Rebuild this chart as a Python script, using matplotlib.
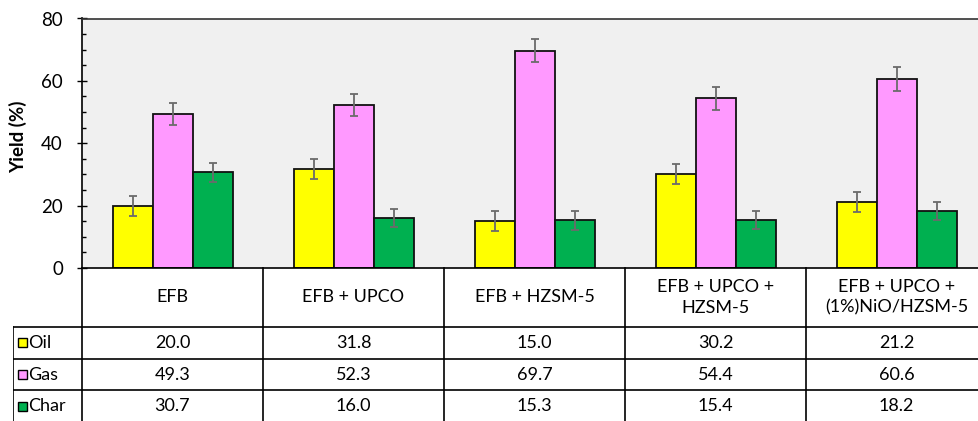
import numpy as np
import matplotlib
matplotlib.use('Agg')
import matplotlib.pyplot as plt
from matplotlib.patches import Rectangle
from matplotlib.ticker import MultipleLocator

plt.rcParams['font.family'] = ['Lato', 'DejaVu Sans']

# 数据
categories = ['EFB', 'EFB + UPCO', 'EFB + HZSM-5', 'EFB + UPCO +\nHZSM-5',
              'EFB + UPCO +\n(1%)NiO/HZSM-5']
series = ['Oil', 'Gas', 'Char']
oil = [20.0, 31.8, 15.0, 30.2, 21.2]
gas = [49.3, 52.3, 69.7, 54.4, 60.6]
char = [30.7, 16.0, 15.3, 15.4, 18.2]
oil_err = [3.2, 3.2, 3.2, 3.2, 3.1]
gas_err = [3.6, 3.6, 3.6, 3.6, 3.7]
char_err = [3.0, 3.0, 3.0, 2.9, 2.9]
colors = ['#ffff00', '#ff99ff', '#00b050']

W, H = 979, 421
fig = plt.figure(figsize=(W / 100, H / 100), dpi=100)

# 像素布局
x_left, x_right = 82, 987
y_top, y_zero = 18.5, 268
col_w = (x_right - x_left) / len(categories)

ax = fig.add_axes([x_left / W, 1 - y_zero / H, (x_right - x_left) / W, (y_zero - y_top) / H])
ax.set_facecolor('#f0f0f0')
ax.set_xlim(-0.5, len(categories) - 0.5)
ax.set_ylim(0, 80)

x = np.arange(len(categories))
bw = 40 / col_w
vals = [oil, gas, char]
errs = [oil_err, gas_err, char_err]
for i in range(3):
    ax.bar(x + (i - 1) * bw, vals[i], width=bw, color=colors[i],
           edgecolor='#111111', linewidth=1.3, zorder=2)
    ax.errorbar(x + (i - 1) * bw, vals[i], yerr=errs[i], fmt='none',
                ecolor='#6b6b6b', elinewidth=1.3, capsize=3, capthick=1.3, zorder=3)

ax.spines['right'].set_visible(False)
for s in ['left', 'top', 'bottom']:
    ax.spines[s].set_linewidth(1.2)
ax.spines['top'].set_color('#333333')
ax.set_xticks([])
ax.yaxis.set_major_locator(MultipleLocator(20))
ax.yaxis.set_minor_locator(MultipleLocator(5))
ax.tick_params(axis='y', which='major', direction='inout', length=7.5, width=1.0,
               pad=10, labelsize=13.5)
ax.tick_params(axis='y', which='minor', direction='in', length=3, width=1.0)

fig.text(18 / W, 1 - 137 / H, 'Yield (%)', rotation=90, ha='center', va='center',
         fontsize=13.5, fontweight='bold')

# 表格
row_h = 31.7
hdr_h = 59
tab_h = hdr_h + 3 * row_h
lbl_w = 69 / col_w
tab = fig.add_axes([(x_left - 69) / W, 1 - (y_zero + tab_h) / H,
                    (x_right - x_left + 69) / W, tab_h / H])
tab.set_xlim(-0.5 - lbl_w, len(categories) - 0.5)
tab.set_ylim(tab_h, 0)
tab.axis('off')

lw = 1.2
for k in range(len(categories) + 1):
    tab.plot([k - 0.5, k - 0.5], [0, tab_h], color='black', lw=lw, clip_on=False)
tab.plot([-0.5 - lbl_w, -0.5 - lbl_w], [hdr_h, tab_h], color='black', lw=lw)
for r in range(3):
    yy = hdr_h + r * row_h
    tab.plot([-0.5 - lbl_w, len(categories) - 0.5], [yy, yy], color='black', lw=lw)

fs = 13
for j, c in enumerate(categories):
    tab.text(j, hdr_h / 2, c, ha='center', va='center', fontsize=fs, linespacing=1.35)
    for r in range(3):
        tab.text(j, hdr_h + (r + 0.5) * row_h, f'{vals[r][j]:.1f}', ha='center',
                 va='center', fontsize=fs)

key_w = 9 / col_w
for r in range(3):
    yc = hdr_h + (r + 0.5) * row_h
    tab.add_patch(Rectangle((-0.5 - lbl_w + 5 / col_w, yc - 4.5), key_w, 9,
                            facecolor=colors[r], edgecolor='black', lw=1.0))
    tab.text(-0.5 - lbl_w + 15.5 / col_w, yc, series[r], ha='left', va='center', fontsize=fs)

fig.savefig('out.png', dpi=100)
